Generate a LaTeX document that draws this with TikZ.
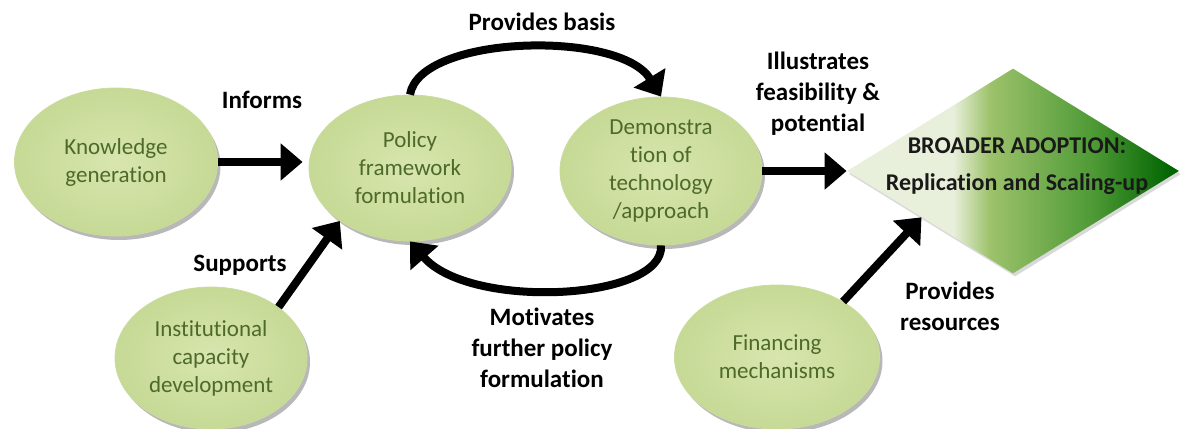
\documentclass[tikz,border=0pt]{standalone}
\usepackage{fontspec}
\setmainfont{Carlito}[Ligatures=NoCommon]
\usetikzlibrary{shapes.geometric,arrows.meta,shadows,calc}
\definecolor{ellfill}{HTML}{D8E6AE}
\definecolor{ellrim}{HTML}{C6D995}
\definecolor{elledge}{HTML}{CADC9E}
\definecolor{elltext}{HTML}{4D6A2A}
\definecolor{pale}{HTML}{E8EFDA}
\definecolor{midg}{HTML}{9DC26B}
\definecolor{midg2}{HTML}{4E9A36}
\definecolor{darkg}{HTML}{006400}
\pgfdeclarehorizontalshading{diamshade}{100bp}{color(0bp)=(pale); color(25bp)=(pale); color(41bp)=(pale); color(46.5bp)=(midg); color(62bp)=(midg2); color(74bp)=(darkg); color(100bp)=(darkg)}
\tikzset{
  ell/.style={ellipse, inner sep=0pt, align=center, text=elltext,
    font=\fontsize{11.5}{14}\selectfont,
    inner color=ellfill, outer color=ellrim, draw=elledge, line width=0.4pt,
    drop shadow={shadow xshift=1.5pt, shadow yshift=-2pt, opacity=0.28, fill=black}},
  lbl/.style={align=center, font=\bfseries\fontsize{12.5}{15.5}\selectfont, text=black},
  arr/.style={line width=4pt, draw=black, -{Triangle[length=11pt,width=18pt]}},
}
\begin{document}
\begin{tikzpicture}[x=0.5pt,y=-0.5pt]
\path[use as bounding box] (0,0) rectangle (1180,429);
\clip (0,0) rectangle (1180,429);

% diamond
\node[diamond, minimum width=166pt, minimum height=102.5pt, inner sep=0pt,
  shading=diamshade, draw=none,
  drop shadow={shadow xshift=1pt, shadow yshift=-1.5pt, opacity=0.15, fill=black}] (ba) at (1013,171) {};
\node[align=center, font=\bfseries\fontsize{12}{18.5}\selectfont, text=black!90] (batext) at (1017,166) {BROADER ADOPTION:\\Replication and Scaling-up};

% ellipses
\node[ell, minimum width=101.5pt, minimum height=74pt] (kg) at (116,162) {Knowledge\\generation};
\node[ell, minimum width=101pt, minimum height=73pt] (pf) at (410,168) {Policy\\framework\\formulation};
\node[ell, minimum width=101pt, minimum height=74pt] (dm) at (661,171) {Demonstra\\tion of\\technology\\/approach};
\node[ell, minimum width=96pt, minimum height=71pt] (ic) at (211,358) {Institutional\\capacity\\development};
\node[ell, minimum width=102.5pt, minimum height=72pt] (fm) at (777,357) {Financing\\mechanisms};

% labels
\node[lbl] (l1) at (262,100) {Informs};
\node[lbl] (l2) at (240,265) {Supports};
\node[lbl] (l3) at (542,22) {Provides basis};
\node[lbl] (l4) at (818,94) {Illustrates\\feasibility \&\\potential};
\node[lbl] (l5) at (542,348) {Motivates\\further policy\\formulation};
\node[lbl] (l6) at (950,306) {Provides\\resources};

% connectors
\draw[arr, shorten >=3pt] (kg.east) -- (kg.east -| pf.west);
\draw[arr] (ic.37) -- (pf.217);
\draw[arr] (pf.north) .. controls +(10,-60) and +(-41,-67) .. (dm.north);
\draw[arr] (dm.south) .. controls +(4,55) and +(60,69) .. (pf.south);
\draw[arr] (dm.east) -- (ba.west);
\coordinate (bin) at ($(ba.west)!0.45!(ba.south)$);
\draw[arr] (fm.40) -- (bin);
\end{tikzpicture}
\end{document}
